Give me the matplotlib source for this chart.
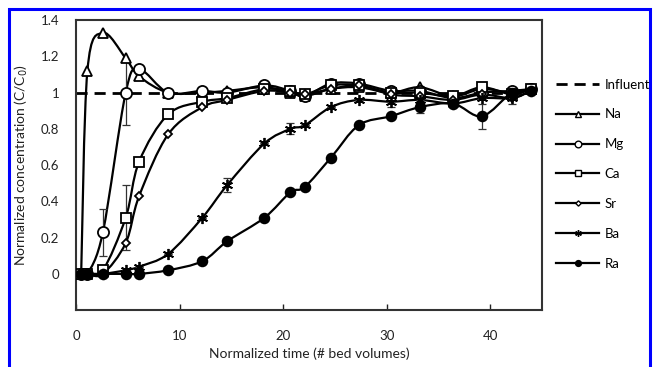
import numpy as np
import matplotlib.pyplot as plt
from matplotlib.path import Path
from matplotlib.patches import PathPatch, Rectangle
from matplotlib.lines import Line2D

plt.rcParams['font.family'] = ['Lato', 'DejaVu Sans']

# bed volumes (shared sampling times)
bv = [0.5, 1.1, 2.6, 4.8, 6.1, 8.9, 12.2, 14.6, 18.2, 20.7, 22.1, 24.6, 27.3, 30.4, 33.2, 36.4, 39.2, 42.1, 43.9]

na = [0, 1.12, 1.33, 1.19, 1.09, 1.00, 1.00, 1.01, 1.03, 1.00, 0.98, 1.02, 1.03, 1.00, 1.03, 0.98, 1.02, 1.00, 1.02]
mg = [0, 0, 0.23, 1.00, 1.13, 1.00, 1.01, 1.00, 1.04, 1.01, 0.98, 1.05, 1.05, 1.01, 1.01, 0.97, 1.00, 1.01, 1.02]
ca = [0, 0, 0.02, 0.31, 0.62, 0.88, 0.95, 0.97, 1.02, 1.01, 0.99, 1.04, 1.04, 1.00, 1.00, 0.98, 1.03, 0.99, 1.02]
sr = [0, 0, 0.0, 0.17, 0.43, 0.77, 0.92, 0.96, 1.01, 1.00, 0.99, 1.02, 1.04, 0.99, 0.98, 0.96, 0.99, 0.97, 1.01]
ba = [0, 0, 0, 0.02, 0.04, 0.11, 0.31, 0.49, 0.72, 0.80, 0.82, 0.92, 0.96, 0.95, 0.96, 0.94, 0.97, 0.97, 1.01]
ra = [0, 0, 0, 0, 0, 0.02, 0.07, 0.18, 0.31, 0.45, 0.48, 0.64, 0.82, 0.87, 0.92, 0.94, 0.87, 1.00, 1.01]

# error bars (only a few points have them)
mg_err = [0, 0, 0.13, 0.18, 0, 0, 0, 0, 0, 0, 0, 0, 0, 0, 0, 0, 0, 0, 0]
ca_err = [0, 0, 0, 0.18, 0, 0, 0, 0, 0, 0, 0, 0, 0, 0, 0.03, 0, 0.03, 0, 0]
ba_err = [0, 0, 0, 0, 0, 0, 0, 0.04, 0, 0.03, 0, 0, 0, 0.03, 0, 0, 0, 0.03, 0]
ra_err = [0, 0, 0, 0, 0, 0, 0, 0, 0, 0, 0, 0, 0, 0, 0.03, 0, 0.07, 0, 0]

influent_x = [0, 44]
influent_y = [1, 1]

series = [
    ('Na', na, None, '^', 'white', 7),
    ('Mg', mg, mg_err, 'o', 'white', 8),
    ('Ca', ca, ca_err, 's', 'white', 7),
    ('Sr', sr, None, 'D', 'white', 4.5),
    ('Ba', ba, ba_err, (6, 2, 0), 'black', 8),
    ('Ra', ra, ra_err, 'o', 'black', 7),
]


def smooth_path(x, y):
    # Excel-style smoothed line: cubic bezier segments through the points
    x = np.asarray(x, float)
    y = np.asarray(y, float)
    verts = [(x[0], y[0])]
    codes = [Path.MOVETO]
    n = len(x)
    for i in range(n - 1):
        i0 = max(i - 1, 0)
        i3 = min(i + 2, n - 1)
        c1 = (x[i] + (x[i + 1] - x[i0]) / 6, y[i] + (y[i + 1] - y[i0]) / 6)
        c2 = (x[i + 1] - (x[i3] - x[i]) / 6, y[i + 1] - (y[i3] - y[i]) / 6)
        verts += [c1, c2, (x[i + 1], y[i + 1])]
        codes += [Path.CURVE4] * 3
    return Path(verts, codes)


fig = plt.figure(figsize=(6.54, 3.67), dpi=100)
ax = fig.add_axes([0.1162, 0.155, 0.7125, 0.79])

ax.plot(influent_x, influent_y, color='black', lw=2, dashes=(4, 2.5), zorder=2)

handles = [Line2D([], [], color='black', lw=2, dashes=(4, 2.5))]
for name, vals, err, mk, fc, ms in series:
    ax.add_patch(PathPatch(smooth_path(bv, vals), fill=False, ec='black', lw=1.6, zorder=3))
    if err is not None:
        ax.errorbar(bv, vals, yerr=err, fmt='none', ecolor='#333333', elinewidth=0.9,
                    capsize=3, capthick=0.9, zorder=3)
    ax.plot(bv, vals, ls='none', marker=mk, ms=ms, mfc=fc, mec='black', mew=1.3, zorder=4)
    handles.append(Line2D([], [], color='black', lw=1.6, marker=mk, ms=ms * 0.6,
                          mfc=fc, mec='black', mew=1.0))

ax.set_xlim(0, 45)
ax.set_ylim(-0.2, 1.4)
ax.set_xticks([0, 10, 20, 30, 40])
ax.set_yticks([0, 0.2, 0.4, 0.6, 0.8, 1.0, 1.2, 1.4])
ax.set_yticklabels(['0', '0.2', '0.4', '0.6', '0.8', '1', '1.2', '1.4'])
ax.tick_params(axis='x', direction='in', length=4, width=1, pad=14, labelsize=9.5, colors='#222222')
ax.tick_params(axis='y', length=0, pad=12, labelsize=9.5, colors='#222222')
for s in ax.spines.values():
    s.set_linewidth(1.5)
    s.set_color('#333333')

ax.set_xlabel('Normalized time (# bed volumes)', fontsize=10, labelpad=4, color='#222222')
ax.set_ylabel('Normalized concentration (C/C$_0$)', fontsize=10, labelpad=8, color='#222222')

fig.legend(handles, ['Influent', 'Na', 'Mg', 'Ca', 'Sr', 'Ba', 'Ra'],
           loc='upper left', bbox_to_anchor=(0.842, 0.80), frameon=False,
           fontsize=9.5, handlelength=3.3, handletextpad=0.4, labelspacing=1.35,
           borderaxespad=0)

# blue border around the figure
fig.patches.append(Rectangle((9 / 654, -0.05), 641 / 654, 1.05 - 9 / 367, fill=False,
                             ec='#0000ff', lw=2.2, transform=fig.transFigure, figure=fig))

fig.savefig('out.png', dpi=100)
